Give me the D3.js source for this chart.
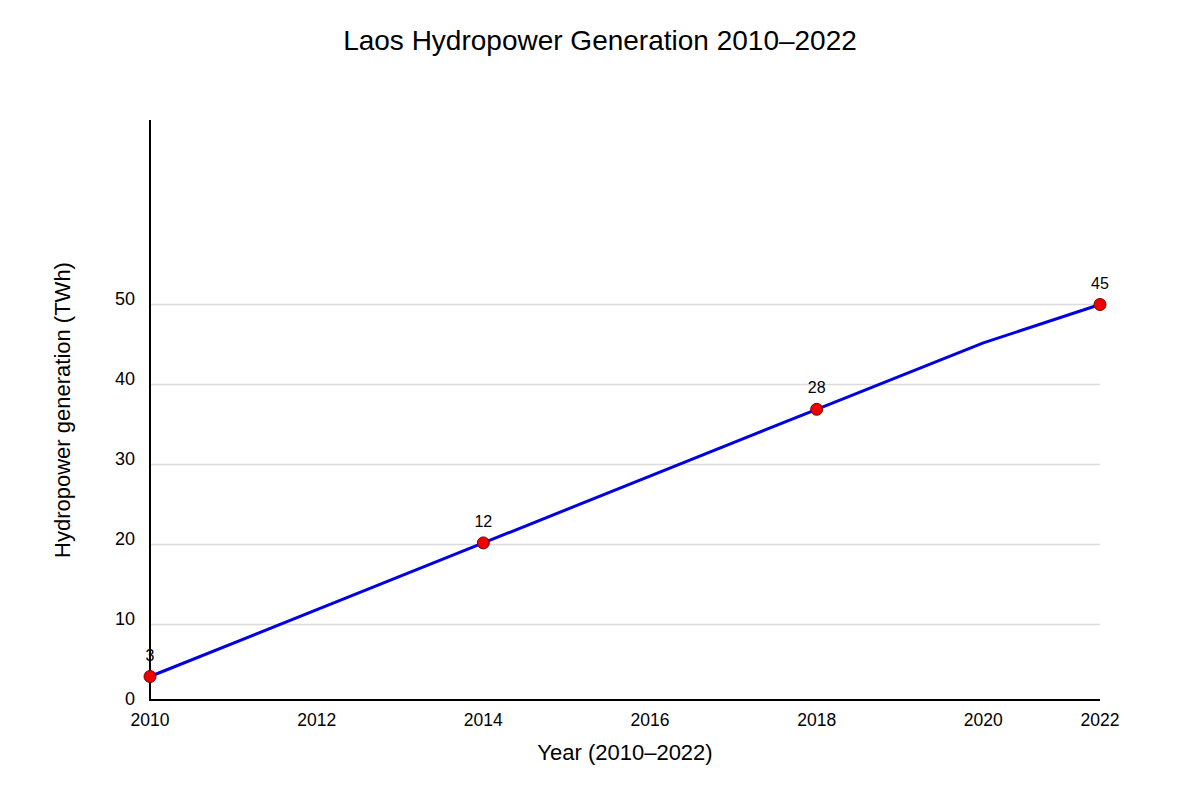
<!DOCTYPE html>
<html>
<head>
<meta charset="utf-8">
<script src="https://cdn.jsdelivr.net/npm/d3@7"></script>
<style>
  body { margin: 0; background: #fff; }
  text { font-family: "Liberation Sans", Arial, sans-serif; fill: #000; }
</style>
</head>
<body>
<div id="chart"></div>
<script>
"use strict";

const years = [2010, 2014, 2018, 2020, 2022];
const generation = [3.5, 20.2, 36.9, 45.2, 50];
const markerYears = [2010, 2014, 2018, 2022];
const markerLabels = ["3", "12", "28", "45"];
const xTicks = [2010, 2012, 2014, 2016, 2018, 2020, 2022];
const yTicks = [0, 10, 20, 30, 40, 50];

const W = 1200;
const H = 800;
const plotLeft = 150;
const plotRight = 1100;
const plotBottom = 700;
const plotTop = 120;

const xLin = d3.scaleLinear().domain([2010, 2022]).range([plotLeft, 1150]);
// last year sits on the axis end
const x = (v) => Math.min(xLin(v), plotRight);
const y = d3.scaleLinear().domain([0, 50]).range([704.5, 304.5]);

const svg = d3
  .select("#chart")
  .append("svg")
  .attr("width", W)
  .attr("height", H);

// title
svg
  .append("text")
  .attr("x", W / 2)
  .attr("y", 50)
  .attr("text-anchor", "middle")
  .attr("font-size", "28px")
  .text("Laos Hydropower Generation 2010\u20132022");

// gridlines
svg
  .selectAll("line.grid")
  .data(yTicks.filter((d) => d > 0))
  .enter()
  .append("line")
  .attr("class", "grid")
  .attr("x1", plotLeft)
  .attr("x2", plotRight)
  .attr("y1", (d) => y(d))
  .attr("y2", (d) => y(d))
  .attr("stroke", "#dcdcdc")
  .attr("stroke-width", 1.5);

// y tick labels
svg
  .selectAll("text.ytick")
  .data(yTicks)
  .enter()
  .append("text")
  .attr("class", "ytick")
  .attr("x", 135)
  .attr("y", (d) => y(d) - 5.5)
  .attr("dy", "0.35em")
  .attr("text-anchor", "end")
  .attr("font-size", "18px")
  .text((d) => d);

// x tick labels
svg
  .selectAll("text.xtick")
  .data(xTicks)
  .enter()
  .append("text")
  .attr("class", "xtick")
  .attr("x", (d) => x(d))
  .attr("y", 726)
  .attr("text-anchor", "middle")
  .attr("font-size", "17.5px")
  .text((d) => d);

// axes
svg
  .append("line")
  .attr("x1", plotLeft)
  .attr("x2", plotLeft)
  .attr("y1", plotTop)
  .attr("y2", plotBottom + 1)
  .attr("stroke", "#000")
  .attr("stroke-width", 2);

svg
  .append("line")
  .attr("x1", plotLeft - 1)
  .attr("x2", plotRight)
  .attr("y1", plotBottom)
  .attr("y2", plotBottom)
  .attr("stroke", "#000")
  .attr("stroke-width", 2);

// axis titles
svg
  .append("text")
  .attr("x", 625)
  .attr("y", 760)
  .attr("text-anchor", "middle")
  .attr("font-size", "22px")
  .text("Year (2010\u20132022)");

svg
  .append("text")
  .attr("transform", "translate(70,410) rotate(-90)")
  .attr("text-anchor", "middle")
  .attr("font-size", "22px")
  .text("Hydropower generation (TWh)");

// line
const series = years.map((yr, i) => ({ year: yr, value: generation[i] }));

const line = d3
  .line()
  .x((d) => x(d.year))
  .y((d) => y(d.value));

svg
  .append("path")
  .datum(series)
  .attr("d", line)
  .attr("fill", "none")
  .attr("stroke", "#0000e0")
  .attr("stroke-width", 3)
  .attr("stroke-linejoin", "round");

// markers
const markers = markerYears.map((yr, i) => ({
  year: yr,
  value: generation[years.indexOf(yr)],
  label: markerLabels[i],
}));

svg
  .selectAll("circle")
  .data(markers)
  .enter()
  .append("circle")
  .attr("cx", (d) => x(d.year))
  .attr("cy", (d) => y(d.value))
  .attr("r", 6)
  .attr("fill", "#ee0000")
  .attr("stroke", "#7a0000")
  .attr("stroke-width", 1);

svg
  .selectAll("text.mlabel")
  .data(markers)
  .enter()
  .append("text")
  .attr("class", "mlabel")
  .attr("x", (d) => x(d.year))
  .attr("y", (d) => y(d.value) - 16)
  .attr("text-anchor", "middle")
  .attr("font-size", "16px")
  .text((d) => d.label);
</script>
</body>
</html>
